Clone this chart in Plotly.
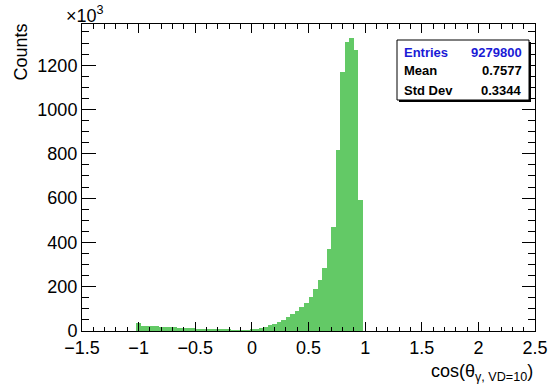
import numpy as np
import plotly.graph_objects as go

# ---- data (counts in units of 10^3), bins of width 0.04 on [-1.5, 2.5] ----
bin_width = 0.04
x_min, x_max = -1.5, 2.5
# first non-empty bin starts at -1.02, last ends at 1.02
first_edge = -1.02
counts_k = [
    # -1.02 .. -0.02
    37, 24, 23, 22, 21, 20, 19, 18, 17, 15, 14, 13, 12, 11, 10, 9, 8, 7, 6, 5, 5, 4, 4, 3,
    # -0.02 .. 0.26
    3, 6, 10, 15, 20, 26, 32,
    # 0.26 .. 1.02
    40, 50, 62, 75, 90, 107, 127, 154, 188, 229, 285, 369, 469, 819, 1171, 1306, 1322, 1269, 593,
]
stats_labels = ["Entries", "Mean", "Std Dev"]
stats_values = ["9279800", "0.7577", "0.3344"]
x_tick_vals = [-1.5, -1, -0.5, 0, 0.5, 1, 1.5, 2, 2.5]
y_tick_vals = [0, 200, 400, 600, 800, 1000, 1200]

centers = [first_edge + bin_width * (i + 0.5) for i in range(len(counts_k))]

FONT = "Liberation Sans, Arial, Helvetica, sans-serif"
W, H = 549, 390
L, R, T, B = 82, 535, 24, 331

def px(x):
    return (x - L) / (R - L)

def py(y):
    return (B - y) / (B - T)

fig = go.Figure()
fig.add_trace(go.Bar(
    x=centers, y=counts_k, width=bin_width,
    marker=dict(color="#63c966", line=dict(width=0)),
    showlegend=False, hoverinfo="skip",
))

fig.update_layout(
    width=W, height=H,
    margin=dict(l=L, r=W - R, t=T, b=H - B, pad=0, autoexpand=False),
    paper_bgcolor="white", plot_bgcolor="white",
    bargap=0,
    font=dict(family=FONT, size=16, color="black"),
)
fig.update_xaxes(
    range=[x_min, x_max], tickvals=x_tick_vals, automargin=False,
    ticks="inside", ticklen=9, tickwidth=1, tickcolor="black",
    minor=dict(dtick=0.1, tick0=0, ticks="inside", ticklen=4.5, tickcolor="black", tickwidth=1),
    showline=True, linecolor="black", linewidth=1, mirror="ticks",
    showgrid=False, zeroline=False,
    tickfont=dict(size=18),
)
fig.update_yaxes(
    range=[0, 1386], tickvals=y_tick_vals, automargin=False,
    ticks="inside", ticklen=13.5, tickwidth=1, tickcolor="black",
    minor=dict(dtick=50, tick0=0, ticks="inside", ticklen=7, tickcolor="black", tickwidth=1),
    showline=True, linecolor="black", linewidth=1, mirror="ticks",
    showgrid=False, zeroline=False,
    tickfont=dict(size=18),
)

annotations = [
    dict(text="cos(θ<sub>γ, VD=10</sub>)", xref="paper", yref="paper",
         x=px(535), y=py(372), xanchor="right", yanchor="middle",
         showarrow=False, font=dict(size=18)),
    dict(text="Counts", xref="paper", yref="paper", textangle=-90,
         x=px(20), y=py(22), xanchor="center", yanchor="top",
         showarrow=False, font=dict(size=18)),
    dict(text="×10<sup>3</sup>", xref="paper", yref="paper",
         x=px(64), y=py(1), xanchor="left", yanchor="top",
         showarrow=False, font=dict(size=18)),
]

# stats box
bx0, bx1, by0, by1 = 397, 529, 40, 100
shapes = [
    dict(type="rect", xref="paper", yref="paper",
         x0=px(bx0 + 2), x1=px(bx1 + 2), y0=py(by0 + 2), y1=py(by1 + 2),
         fillcolor="black", line=dict(width=0), layer="above"),
    dict(type="rect", xref="paper", yref="paper",
         x0=px(bx0), x1=px(bx1), y0=py(by0), y1=py(by1),
         fillcolor="white", line=dict(color="black", width=1), layer="above"),
]
row_y = [52, 71, 90]
for i, (lab, val) in enumerate(zip(stats_labels, stats_values)):
    col = "#1a1ad6" if i == 0 else "black"
    annotations.append(dict(text=f"<b>{lab}</b>", xref="paper", yref="paper",
                            x=px(bx0 + 5), y=py(row_y[i]), xanchor="left", yanchor="middle",
                            showarrow=False, font=dict(size=13, color=col)))
    annotations.append(dict(text=f"<b>{val}</b>", xref="paper", yref="paper",
                            x=px(bx1 - 5), y=py(row_y[i]), xanchor="right", yanchor="middle",
                            showarrow=False, font=dict(size=13, color=col)))

fig.update_layout(annotations=annotations, shapes=shapes)
fig.write_html("out.html")
